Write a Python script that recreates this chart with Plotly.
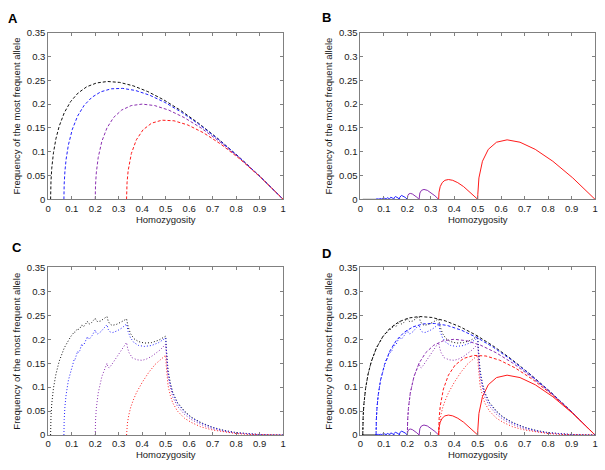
import plotly.graph_objects as go

# ---------------- tick definitions ----------------
x_tick_vals = [0, 0.1, 0.2, 0.3, 0.4, 0.5, 0.6, 0.7, 0.8, 0.9, 1.0]
x_tick_text = ["0", "0.1", "0.2", "0.3", "0.4", "0.5", "0.6", "0.7", "0.8", "0.9", "1"]
y_tick_vals = [0, 0.05, 0.1, 0.15, 0.2, 0.25, 0.3, 0.35]
y_tick_text = ["0", "0.05", "0.1", "0.15", "0.2", "0.25", "0.3", "0.35"]
x_title = "Homozygosity"
y_title = "Frequency of the most frequent allele"
panel_letters = ["A", "B", "C", "D"]

# ---------------- panel A (dashed) ----------------
A_black_H = [0.0100, 0.01003, 0.0101, 0.0104, 0.0116, 0.0149, 0.0222, 0.0327, 0.0465, 0.0682, 0.0949,
             0.1268, 0.1636, 0.2056, 0.2525, 0.3045, 0.3616, 0.4237, 0.4909, 0.5631, 0.6404, 0.7227,
             0.8101, 0.9025, 1.0]
A_black_y = [0.0, 0.005, 0.0099, 0.0196, 0.0384, 0.0651, 0.0978, 0.1273, 0.1535, 0.1818, 0.2051,
             0.2232, 0.2364, 0.2444, 0.2475, 0.2455, 0.2384, 0.2263, 0.2091, 0.1869, 0.1596, 0.1273,
             0.0899, 0.0475, 0.0]
A_blue_H = [0.06667, 0.06668, 0.06686, 0.06786, 0.07096, 0.07600, 0.08571, 0.10268, 0.12500, 0.15268,
            0.18571, 0.22411, 0.26786, 0.31696, 0.37143, 0.43125, 0.49643, 0.56696, 0.64286, 0.72411,
            0.81071, 0.90268, 1.0]
A_blue_y = [0.0, 0.0033, 0.0131, 0.0321, 0.0590, 0.0840, 0.1143, 0.1473, 0.1750, 0.1973, 0.2143,
            0.2259, 0.2321, 0.2330, 0.2286, 0.2188, 0.2036, 0.1830, 0.1571, 0.1259, 0.0893, 0.0473, 0.0]
A_purple_H = [0.2, 0.200125, 0.201125, 0.2045, 0.2125, 0.228125, 0.25, 0.278125, 0.3125, 0.353125, 0.4,
              0.453125, 0.5125, 0.578125, 0.65, 0.728125, 0.8125, 0.903125, 1.0]
A_purple_y = [0.0, 0.009875, 0.028875, 0.0555, 0.0875, 0.121875, 0.15, 0.171875, 0.1875, 0.196875, 0.2,
              0.196875, 0.1875, 0.171875, 0.15, 0.121875, 0.0875, 0.046875, 0.0]
A_red_H = [0.33333, 0.33340, 0.33375, 0.33535, 0.34, 0.35375, 0.375, 0.40375, 0.44, 0.48375, 0.535,
           0.59375, 0.66, 0.73375, 0.815, 0.90375, 1.0]
A_red_y = [0.0, 0.0066, 0.01625, 0.03465, 0.06, 0.09625, 0.125, 0.14625, 0.16, 0.16625, 0.165,
           0.15625, 0.14, 0.11625, 0.085, 0.04625, 0.0]

# ---------------- panel B (solid) ----------------
B_black_H = [0.01, 0.06667]
B_black_y = [0.0, 0.0]
B_blue_H = [0.066667, 0.066774, 0.067857, 0.070107, 0.071429, 0.071552, 0.072802, 0.075398, 0.076923,
            0.077067, 0.078526, 0.081554, 0.083333, 0.083504, 0.085227, 0.088807, 0.090909, 0.091114,
            0.093182, 0.097477, 0.1, 0.10025, 0.10278, 0.10803, 0.11111, 0.11142, 0.11458, 0.12115,
            0.125, 0.12540, 0.12946, 0.13790, 0.142857, 0.14339, 0.14881, 0.16006, 0.166667, 0.16742,
            0.175, 0.19075, 0.2]
B_blue_y = [0.0, 0.000607, 0.00119, 0.000607, 0.0, 0.000701, 0.001374, 0.000701, 0.0,
            0.000817, 0.001603, 0.000817, 0.0, 0.000966, 0.001894, 0.000966, 0.0, 0.001159,
            0.002273, 0.001159, 0.0, 0.001417, 0.002778, 0.001417, 0.0, 0.001771, 0.003472, 0.001771,
            0.0, 0.002277, 0.004464, 0.002277, 0.0, 0.003036, 0.005952, 0.003036, 0.0, 0.00425,
            0.00833, 0.00425, 0.0]
B_purple_H = [0.2, 0.2005, 0.202, 0.20613, 0.2125, 0.22113, 0.232, 0.2405, 0.25, 0.25083, 0.25333,
              0.26021, 0.27083, 0.28521, 0.30333, 0.3175, 0.33333]
B_purple_y = [0.0, 0.0045, 0.008, 0.011375, 0.0125, 0.011375, 0.008, 0.0045, 0.0, 0.0075, 0.01333,
              0.01896, 0.02083, 0.01896, 0.01333, 0.0075, 0.0]
B_red_H = [0.33333, 0.33375, 0.335, 0.34, 0.34833, 0.36, 0.375, 0.39333, 0.415, 0.44, 0.46833, 0.5,
           0.5002, 0.50125, 0.505, 0.52, 0.545, 0.58, 0.625, 0.68, 0.745, 0.82, 0.905, 1.0]
B_red_y = [0.0, 0.00792, 0.015, 0.02667, 0.035, 0.04, 0.04167, 0.04, 0.035, 0.02667, 0.015, 0.0,
           0.0098, 0.02375, 0.045, 0.08, 0.105, 0.12, 0.125, 0.12, 0.105, 0.08, 0.045, 0.0]

# ---------------- panel C (dotted) ----------------
C_decay_H = [0.502, 0.505, 0.51, 0.52, 0.53, 0.55, 0.58, 0.61, 0.65, 0.7, 0.75, 0.8, 0.85, 0.9, 0.95, 1.0]

C_black_H = [0.0100, 0.0101, 0.0104, 0.0116, 0.0149, 0.0222, 0.0327, 0.0465, 0.0682, 0.0949, 0.1111,
             0.114, 0.119, 0.125, 0.128, 0.135, 0.1429, 0.146, 0.152, 0.16, 0.1667, 0.17, 0.175, 0.185,
             0.2, 0.204, 0.21, 0.222, 0.236, 0.25, 0.255, 0.262, 0.272, 0.29, 0.31, 0.3333, 0.34, 0.35,
             0.365, 0.385, 0.41, 0.44, 0.47, 0.5]
C_black_y = [0.0, 0.010, 0.020, 0.038, 0.065, 0.098, 0.127, 0.154, 0.182, 0.205, 0.2154,
             0.2145, 0.218, 0.2225, 0.2205, 0.223, 0.2299, 0.227, 0.227, 0.232, 0.2372, 0.233, 0.232, 0.235,
             0.2438, 0.239, 0.237, 0.238, 0.242, 0.2475, 0.238, 0.232, 0.229, 0.231, 0.236, 0.2425, 0.226,
             0.212, 0.201, 0.195, 0.192, 0.193, 0.198, 0.2065]
C_black_decay_y = [0.185, 0.165, 0.135, 0.108, 0.089, 0.068, 0.050, 0.037, 0.026, 0.016, 0.0095, 0.005,
                   0.0025, 0.001, 0.0002, 0.0]

C_blue_H = [0.06667, 0.06668, 0.06686, 0.06786, 0.07096, 0.0760, 0.08571, 0.10268, 0.1111, 0.114, 0.119,
            0.125, 0.128, 0.134, 0.1429, 0.146, 0.152, 0.159, 0.1667, 0.17, 0.176, 0.187, 0.2, 0.204,
            0.211, 0.222, 0.236, 0.25, 0.256, 0.264, 0.275, 0.295, 0.315, 0.3333, 0.34, 0.35, 0.365,
            0.385, 0.41, 0.44, 0.47, 0.5]
C_blue_y = [0.0, 0.0033, 0.0131, 0.0321, 0.059, 0.084, 0.1143, 0.1473, 0.159, 0.158, 0.164,
            0.175, 0.172, 0.176, 0.1905, 0.187, 0.189, 0.196, 0.2055, 0.201, 0.201, 0.208, 0.2196, 0.213,
            0.211, 0.215, 0.222, 0.2303, 0.220, 0.215, 0.214, 0.218, 0.224, 0.2322, 0.216, 0.203, 0.193,
            0.187, 0.185, 0.187, 0.193, 0.2027]
C_blue_decay_y = [0.180, 0.160, 0.131, 0.105, 0.087, 0.066, 0.048, 0.036, 0.025, 0.0155, 0.009, 0.0048,
                  0.0024, 0.0009, 0.0002, 0.0]

C_purple_H = [0.2, 0.200125, 0.201125, 0.2045, 0.2125, 0.228125, 0.25, 0.254, 0.259, 0.27, 0.29, 0.31,
              0.3333, 0.338, 0.344, 0.358, 0.379, 0.4, 0.42, 0.442, 0.477, 0.5]
C_purple_y = [0.0, 0.0099, 0.0289, 0.0555, 0.0875, 0.1219, 0.15, 0.142, 0.140, 0.147, 0.161, 0.176,
              0.1933, 0.181, 0.172, 0.161, 0.157, 0.156, 0.159, 0.165, 0.178, 0.1899]
C_purple_decay_y = [0.168, 0.148, 0.121, 0.096, 0.079, 0.060, 0.043, 0.032, 0.022, 0.013, 0.0075, 0.004,
                    0.002, 0.0007, 0.0001, 0.0]

C_red_H = [0.3333, 0.3345, 0.337, 0.343, 0.351, 0.362, 0.375, 0.4, 0.428, 0.456, 0.48, 0.5]
C_red_y = [0.0, 0.012, 0.025, 0.042, 0.058, 0.073, 0.088, 0.110, 0.131, 0.148, 0.159, 0.1667]
C_red_decay_y = [0.146, 0.128, 0.103, 0.082, 0.067, 0.050, 0.035, 0.026, 0.017, 0.0105, 0.006, 0.003,
                 0.0013, 0.0004, 0.0001, 0.0]

# ---------------- styling ----------------
BLACK = "#111111"
BLUE = "#2020ff"
PURPLE = "#8a2fb0"
RED = "#ff1a1a"
FRAME = "#808080"
FONT = "Liberation Sans, Arial, sans-serif"

curves_A = [(A_black_H, A_black_y, BLACK), (A_blue_H, A_blue_y, BLUE),
            (A_purple_H, A_purple_y, PURPLE), (A_red_H, A_red_y, RED)]
curves_B = [(B_black_H, B_black_y, BLACK), (B_blue_H, B_blue_y, BLUE),
            (B_purple_H, B_purple_y, PURPLE), (B_red_H, B_red_y, RED)]
curves_C = [(C_black_H + C_decay_H, C_black_y + C_black_decay_y, BLACK),
            (C_blue_H + C_decay_H, C_blue_y + C_blue_decay_y, BLUE),
            (C_purple_H + C_decay_H, C_purple_y + C_purple_decay_y, PURPLE),
            (C_red_H + C_decay_H, C_red_y + C_red_decay_y, RED)]

DASH_A = "3px,2px"
DASH_C = "1px,2px"

fig = go.Figure()


def add(curves, dash, ax):
    for H, y, col in curves:
        fig.add_trace(go.Scatter(
            x=H, y=y, mode="lines",
            line=dict(color=col, width=1, dash=dash),
            xaxis="x" + ax, yaxis="y" + ax,
            showlegend=False, hoverinfo="skip"))


add(curves_A, DASH_A, "")
add(curves_B, "solid", "2")
add(curves_C, DASH_C, "3")
add(curves_A, DASH_A, "4")
add(curves_B, "solid", "4")
add(curves_C, DASH_C, "4")

W, H_ = 605, 470
# plot-area pixel boxes: (left, right, top, bottom)
boxes = [(45.7, 283.0, 27.3, 198.0), (361.0, 598.0, 27.3, 198.0),
         (45.7, 283.0, 267.7, 439.3), (361.0, 598.0, 267.7, 439.3)]

layout = dict(width=W, height=H_, autosize=False,
              margin=dict(l=0, r=0, t=0, b=0),
              paper_bgcolor="white", plot_bgcolor="white",
              font=dict(family=FONT, size=9, color="#1a1a1a"))

suffixes = ["", "2", "3", "4"]
for i, (l, r, t, b) in enumerate(boxes):
    s = suffixes[i]
    common = dict(showline=True, linecolor=FRAME, linewidth=1, mirror="ticks",
                  ticks="inside", ticklen=3, tickcolor=FRAME, tickwidth=1,
                  showgrid=False, zeroline=False, ticklabeloverflow="allow",
                  tickfont=dict(family=FONT, size=9.5, color="#1a1a1a"))
    layout["xaxis" + s] = dict(common, domain=[l / W, r / W], range=[0, 1],
                               anchor="y" + s, tickvals=x_tick_vals, ticktext=x_tick_text,
                               title=dict(text=x_title, font=dict(family=FONT, size=9.5, color="#1a1a1a"),
                                          standoff=0))
    layout["yaxis" + s] = dict(common, domain=[1 - b / H_, 1 - t / H_], range=[0, 0.35],
                               anchor="x" + s, tickvals=y_tick_vals, ticktext=y_tick_text,
                               title=dict(text=y_title, font=dict(family=FONT, size=9.5, color="#1a1a1a"),
                                          standoff=4))

letter_pos = [(10, 12.5), (327, 12), (14, 247), (327, 253)]
annotations = []
for txt, (px, py) in zip(panel_letters, letter_pos):
    annotations.append(dict(text="<b>%s</b>" % txt, x=px / W, y=1 - py / H_, xref="paper", yref="paper",
                            xanchor="center", yanchor="middle", showarrow=False,
                            font=dict(family=FONT, size=13, color="black")))
layout["annotations"] = annotations

fig.update_layout(**layout)
fig.write_html("out.html", config={"displayModeBar": False},
               post_script="document.body.style.margin='0';document.body.style.padding='0';")
